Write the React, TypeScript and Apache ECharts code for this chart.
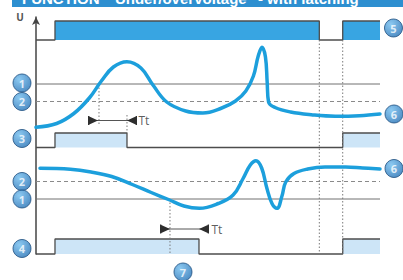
import React, { useEffect, useRef } from "react";
import * as echarts from "echarts";

// time axis: 0..100 ; level axis: 0..237 (abstract units)
const supplyT = [0, 5.52, 82.36, 89.16, 100];
const supplyV = [214, 233, 214, 233, 233];
const relay1T = [0, 5.52, 26.45, 89.16, 100];
const relay1V = [106.5, 121, 106.5, 121, 121];
const relay2T = [0, 5.52, 47.38, 89.16, 100];
const relay2V = [0, 15, 0, 15, 15];

const curve1T = [0, 6, 11, 15.5, 19, 22.5, 26.45, 30.5, 34, 38, 43.5, 48.5, 54, 58, 61, 63.2, 64.6, 65.7, 66.7, 67.2, 67.6, 69.5, 74, 80, 87, 94, 100];
const curve1V = [126.7, 130.5, 140.5, 156, 173, 187, 192.3, 186, 169, 152, 143, 141, 146, 153, 163, 178, 198, 206.7, 197, 172, 152, 146.5, 142, 139.3, 137.8, 138.3, 140];

const curve2T = [1.16, 10, 16, 22, 28, 33.5, 38.5, 43, 47.5, 53, 57.3, 60.2, 62.3, 63.95, 65.6, 67.1, 68.6, 70.06, 71.5, 72.6, 75, 79, 84, 90, 95, 100];
const curve2V = [85.7, 84.7, 82, 77.5, 69.5, 61.5, 54.5, 48, 45.7, 50.5, 59, 75.5, 89, 93.3, 86, 66, 50.5, 45.7, 58, 72, 80.5, 85, 87, 87, 86, 85];

const solidThresholds = [170, 55];
const dashedThresholds = [152.5, 72.5];

const guideT = [82.36, 89.16, 18.31, 26.45, 38.95];
const guideFrom = [214, 214, 170, 139, 55];
const guideTo = [0, 0, 129, 121, 0];

const ttFrom = [15.12, 36.05];
const ttTo = [29.36, 50.29];
const ttV = [133.5, 25];
const ttLabelT = [29.65, 50.87];

const badgeT = [-4.07, -4.07, -4.07, -4.07, -4.07, -4.07, 103.92, 104.07, 104.07, 42.73];
const badgeV = [171, 152.5, 115.5, 72.5, 55, 5.5, 226, 140, 85.5, -18];
const badgeText = ["1", "2", "3", "2", "1", "4", "5", "6", "6", "7"];

const zip = (a: number[], b: number[]) => a.map((x, i) => [x, b[i]]);

const PATH_R = "path://M0,0H1.3V10H0Z M1.3,0.6L10,5L1.3,9.4Z";
const PATH_L = "path://M10,0H8.7V10H10Z M8.7,0.6L0,5L8.7,9.4Z";

export default function App() {
  const ref = useRef<HTMLDivElement>(null);
  useEffect(() => {
    const chart = echarts.init(ref.current!, null, { renderer: "svg" });
    const stepSeries = (t: number[], v: number[], fill: string, origin: number) => ({
      type: "line",
      step: "end",
      data: zip(t, v),
      symbol: "none",
      clip: false,
      lineStyle: { color: "#4d4d4d", width: 1.3 },
      areaStyle: { color: fill, opacity: 1, origin },
      z: 2,
    });
    const series: any[] = [
      stepSeries(supplyT, supplyV, "#38a5e2", 214),
      stepSeries(relay1T, relay1V, "#cde5f7", 106.5),
      stepSeries(relay2T, relay2V, "#cde5f7", 0),
      ...solidThresholds.map((v) => ({
        type: "line",
        data: [[0, v], [100, v]],
        symbol: "none",
        clip: false,
        lineStyle: { color: "#707070", width: 1 },
        z: 1,
      })),
      ...dashedThresholds.map((v) => ({
        type: "line",
        data: [[0, v], [100, v]],
        symbol: "none",
        clip: false,
        lineStyle: { color: "#8a8a8a", width: 1, type: [4, 3] },
        z: 1,
      })),
      ...guideT.map((t, i) => ({
        type: "line",
        data: [[t, guideFrom[i]], [t, guideTo[i]]],
        symbol: "none",
        clip: false,
        lineStyle: { color: "#7a7a7a", width: 1, type: [1.5, 2] },
        z: 3,
      })),
      ...[zip(curve1T, curve1V), zip(curve2T, curve2V)].map((d) => ({
        type: "line",
        data: d,
        smooth: 0.4,
        symbol: "none",
        clip: false,
        lineStyle: { color: "#1c9fdc", width: 3.5, cap: "round", join: "round" },
        z: 5,
      })),
      ...ttFrom.map((f, i) => ({
        type: "line",
        clip: false,
        showSymbol: true,
        data: [
          { value: [f, ttV[i]], symbol: PATH_R, symbolSize: [10, 9], symbolOffset: [5, 0] },
          { value: [ttTo[i], ttV[i]], symbol: PATH_L, symbolSize: [10, 9], symbolOffset: [-5, 0] },
        ],
        itemStyle: { color: "#2e2e2e" },
        lineStyle: { color: "#555", width: 1 },
        z: 6,
      })),
      {
        type: "scatter",
        clip: false,
        data: ttLabelT.map((t, i) => [t, ttV[i]]),
        symbolSize: 1,
        itemStyle: { color: "rgba(0,0,0,0)" },
        label: {
          show: true,
          position: "right",
          distance: 0,
          formatter: "Tt",
          fontFamily: "Open Sans",
          fontSize: 12,
          color: "#333",
        },
        z: 6,
      },
      {
        type: "scatter",
        clip: false,
        data: badgeT.map((t, i) => ({ value: [t, badgeV[i]], name: badgeText[i] })),
        symbolSize: 18,
        itemStyle: {
          color: new echarts.graphic.RadialGradient(0.35, 0.3, 0.8, [
            { offset: 0, color: "#6fbcee" },
            { offset: 1, color: "#1e6cb2" },
          ]),
          borderColor: "#1d4e7e",
          borderWidth: 1,
        },
        label: {
          show: true,
          position: "inside",
          formatter: (p: any) => p.name,
          color: "#fff",
          fontFamily: "Open Sans",
          fontWeight: "bold",
          fontSize: 11,
        },
        z: 7,
      },
    ];
    chart.setOption({
      animation: false,
      backgroundColor: "#ffffff",
      grid: { left: 36, right: 23, top: 17, bottom: 26 },
      xAxis: { type: "value", min: 0, max: 100, show: false },
      yAxis: {
        type: "value",
        min: 0,
        max: 237,
        axisLine: {
          show: true,
          symbol: ["none", "arrow"],
          symbolSize: [6, 8],
          lineStyle: { color: "#444", width: 1.5 },
        },
        axisTick: { show: false },
        axisLabel: { show: false },
        splitLine: { show: false },
      },
      graphic: [
        { type: "rect", shape: { x: 12, y: 0, width: 391, height: 7 }, style: { fill: "#2d8fd0" }, z: 0 },
        {
          type: "text",
          x: 22,
          y: 5.5,
          style: {
            text: 'FUNCTION  "Under/overvoltage" - with latching',
            fill: "#ffffff",
            font: "bold 15px 'Liberation Sans', Arial, sans-serif",
            verticalAlign: "bottom",
            align: "left",
          },
          z: 1,
        },
        { type: "rect", shape: { x: 0, y: 7, width: 403, height: 5 }, style: { fill: "#ffffff" }, z: 2 },
        {
          type: "text",
          x: 20,
          y: 17,
          style: {
            text: "U",
            fill: "#555",
            font: "bold 10px 'Open Sans', sans-serif",
            align: "center",
            verticalAlign: "middle",
          },
          z: 2,
        },
      ],
      series,
    });
    return () => chart.dispose();
  }, []);
  return (
    <div
      ref={ref}
      style={{ position: "fixed", left: 0, top: 0, width: 403, height: 280 }}
    />
  );
}
